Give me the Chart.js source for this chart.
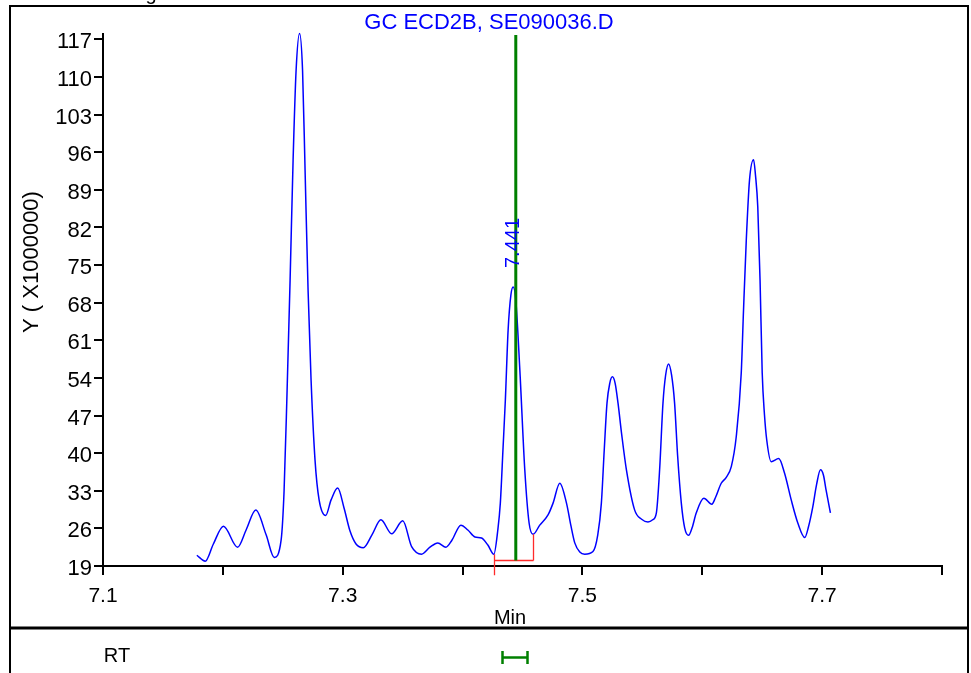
<!DOCTYPE html>
<html>
<head>
<meta charset="utf-8">
<script src="https://cdn.jsdelivr.net/npm/chart.js@4/dist/chart.umd.min.js"></script>
<style>
html,body{margin:0;padding:0;background:#fff;}
#wrap{width:971px;height:673px;position:relative;}
</style>
</head>
<body>
<div id="wrap"><canvas id="c" width="971" height="673"></canvas></div>
<script>
// ---- data ----
const chartTitle = 'GC ECD2B, SE090036.D';
const xAxisTitle = 'Min';
const yAxisTitle = 'Y ( X1000000)';
const rtValues = [7.1783,7.1853,7.1919,7.2005,7.2123,7.2194,7.2275,7.2361,7.2429,7.2486,
  7.2511,7.2536,7.2561,7.2586,7.2611,7.2640,7.2665,7.2686,7.2711,7.2736,
  7.2769,7.2803,7.2858,7.2903,7.2958,7.3011,7.3061,7.3111,7.3172,7.3244,
  7.3319,7.3408,7.3501,7.3575,7.3658,7.3728,7.3793,7.3861,7.3911,7.3986,
  7.4044,7.4103,7.4158,7.4211,7.4261,7.4294,7.4315,7.4338,7.4357,7.4380,
  7.4403,7.4422,7.4444,7.4478,7.4519,7.4555,7.4588,7.4644,7.4713,7.4755,
  7.4811,7.4867,7.4903,7.4936,7.4978,7.5019,7.5088,7.5128,7.5158,7.5182,
  7.5205,7.5228,7.5250,7.5273,7.5297,7.5328,7.5367,7.5436,7.5494,7.5547,
  7.5586,7.5617,7.5644,7.5672,7.5694,7.5719,7.5744,7.5769,7.5794,7.5825,
  7.5853,7.5886,7.5915,7.5950,7.6013,7.6080,7.6111,7.6158,7.6200,7.6242,
  7.6283,7.6325,7.6344,7.6367,7.6394,7.6428,7.6444,7.6463,7.6482,7.6500,
  7.6519,7.6538,7.6575,7.6638,7.6686,7.6742,7.6797,7.6855,7.6886,7.6922,
  7.6953,7.6986,7.7011,7.7033,7.7069];
const signalValues = [21.0,19.9,23.0,26.4,22.5,25.7,29.4,24.8,20.6,23.8,
  33.1,51.7,72.2,94.5,111.2,118.1,111.2,92.6,70.3,53.6,
  38.7,31.3,28.4,31.3,33.5,29.8,25.5,23.1,22.4,24.8,
  27.6,25.0,27.4,22.6,21.2,22.5,23.3,22.5,23.8,26.6,
  25.7,24.4,24.2,22.9,21.2,25.7,30.7,41.1,49.9,62.9,
  69.4,70.9,68.5,55.4,36.9,27.0,24.9,26.6,28.5,30.7,
  34.4,30.7,26.6,23.3,21.6,21.2,21.7,24.8,30.7,40.6,
  49.3,53.0,54.2,53.0,49.3,43.4,36.9,29.4,27.7,27.2,
  27.6,28.9,36.9,49.3,54.5,56.6,54.5,49.3,39.6,30.7,
  26.1,24.7,26.1,28.9,31.6,30.5,31.8,34.4,35.5,37.5,
  43.0,54.9,66.6,79.6,90.8,94.6,91.7,85.8,72.2,54.9,
  47.1,42.4,38.4,39.0,36.3,31.3,27.0,24.3,26.3,30.0,
  34.1,36.9,35.9,33.1,28.9];
const xTickValues = [7.1,7.2,7.3,7.4,7.5,7.6,7.7,7.8];
const xTickLabels = ['7.1','','7.3','','7.5','','7.7',''];
const yTickValues = [19,26,33,40,47,54,61,68,75,82,89,96,103,110,117];
const peakLabel = '7.441';
const peakMarkerRT = 7.4444;
const baselineRT = [7.4261, 7.4588];
const baselineSignal = [21.2, 20.1, 24.9]; // left top, baseline level, right top
const baselineLowSignal = 17.3;
const rtWindow = [7.4328, 7.4536];
const rtRowLabel = 'RT';

const FONT = '"Liberation Sans", Arial, Helvetica, sans-serif';
const points = rtValues.map((x, i) => ({x: x, y: signalValues[i]}));

const decor = {
  id: 'decor',
  beforeDraw(chart) {
    const ctx = chart.ctx;
    ctx.save();
    ctx.fillStyle = '#fff';
    ctx.fillRect(0, 0, chart.width, chart.height);
    ctx.strokeStyle = '#000';
    ctx.lineWidth = 2;
    ctx.beginPath();
    ctx.moveTo(10, 700); ctx.lineTo(10, 6); ctx.lineTo(968, 6); ctx.lineTo(968, 700);
    ctx.stroke();
    ctx.lineWidth = 3;
    ctx.beginPath();
    ctx.moveTo(9, 628); ctx.lineTo(969, 628);
    ctx.stroke();
    // cut-off heading fragment at the very top
    ctx.fillStyle = '#000';
    ctx.font = '20px ' + FONT;
    ctx.textAlign = 'center';
    ctx.textBaseline = 'alphabetic';
    ctx.fillText('g', 151, 0);
    ctx.restore();
  },
  afterDatasetsDraw(chart) {
    const ctx = chart.ctx;
    const xs = chart.scales.x, ys = chart.scales.y;
    ctx.save();
    // red baseline
    ctx.strokeStyle = '#ff2a2a';
    ctx.lineWidth = 1.3;
    const xl = Math.round(xs.getPixelForValue(baselineRT[0])) + 0.5;
    const xr = Math.round(xs.getPixelForValue(baselineRT[1])) + 0.5;
    const yb = Math.round(ys.getPixelForValue(baselineSignal[1])) + 0.5;
    ctx.beginPath();
    ctx.moveTo(xl, ys.getPixelForValue(baselineSignal[0]));
    ctx.lineTo(xl, ys.getPixelForValue(baselineLowSignal));
    ctx.moveTo(xl, yb); ctx.lineTo(xr, yb);
    ctx.moveTo(xr, yb); ctx.lineTo(xr, ys.getPixelForValue(baselineSignal[2]));
    ctx.stroke();
    // green marker line
    const xg = xs.getPixelForValue(peakMarkerRT);
    ctx.strokeStyle = '#008000';
    ctx.lineWidth = 3;
    ctx.beginPath();
    ctx.moveTo(xg, chart.chartArea.top + 1);
    ctx.lineTo(xg, yb);
    ctx.stroke();
    // peak label
    ctx.fillStyle = '#0000ff';
    ctx.font = '20px ' + FONT;
    ctx.translate(xg - 2, 243);
    ctx.rotate(-Math.PI / 2);
    ctx.textAlign = 'center';
    ctx.textBaseline = 'middle';
    ctx.fillText(peakLabel, 0, 0);
    ctx.restore();
  },
  afterDraw(chart) {
    const ctx = chart.ctx;
    const xs = chart.scales.x;
    ctx.save();
    // title
    ctx.fillStyle = '#0000ff';
    ctx.font = '22px ' + FONT;
    ctx.textAlign = 'center';
    ctx.textBaseline = 'alphabetic';
    ctx.fillText(chartTitle, 489, 29);
    // x axis title
    ctx.fillStyle = '#000';
    ctx.font = '20px ' + FONT;
    ctx.fillText(xAxisTitle, 510, 624);
    // RT row
    ctx.fillText(rtRowLabel, 117, 662);
    // y axis title
    ctx.save();
    ctx.translate(38, 262);
    ctx.rotate(-Math.PI / 2);
    ctx.font = '22px ' + FONT;
    ctx.textAlign = 'center';
    ctx.textBaseline = 'alphabetic';
    ctx.fillText(yAxisTitle, 0, 0);
    ctx.restore();
    // RT window bracket
    const a = Math.round(xs.getPixelForValue(rtWindow[0])) + 0.5;
    const b = Math.round(xs.getPixelForValue(rtWindow[1])) + 0.5;
    ctx.strokeStyle = '#008000';
    ctx.lineWidth = 2.5;
    ctx.beginPath();
    ctx.moveTo(a, 651); ctx.lineTo(a, 664);
    ctx.moveTo(a, 657.5); ctx.lineTo(b, 657.5);
    ctx.moveTo(b, 651); ctx.lineTo(b, 664);
    ctx.stroke();
    ctx.restore();
  }
};

new Chart(document.getElementById('c'), {
  type: 'line',
  data: {
    datasets: [{
      data: points,
      borderColor: '#0000ff',
      borderWidth: 1.5,
      pointRadius: 0,
      fill: false,
      cubicInterpolationMode: 'monotone',
      clip: 6
    }]
  },
  options: {
    responsive: false,
    animation: false,
    devicePixelRatio: 1,
    layout: {padding: {left: 0, right: 29, top: 34, bottom: 0}},
    plugins: {legend: {display: false}, tooltip: {enabled: false}, title: {display: false}},
    scales: {
      x: {
        type: 'linear',
        min: 7.1, max: 7.8,
        afterBuildTicks(s) { s.ticks = xTickValues.map(v => ({value: v})); },
        afterFit(s) { s.height = 107; },
        border: {display: true, color: '#000', width: 2},
        grid: {display: true, drawOnChartArea: false, drawTicks: true, tickLength: 9, color: '#000', lineWidth: 2},
        ticks: {
          color: '#000',
          font: {family: FONT, size: 21},
          padding: 9,
          maxRotation: 0,
          autoSkip: false,
          callback(v) {
            const i = xTickValues.findIndex(t => Math.abs(t - v) < 1e-6);
            return i >= 0 ? xTickLabels[i] : '';
          }
        }
      },
      y: {
        type: 'linear',
        min: 19, max: 118,
        afterBuildTicks(s) { s.ticks = yTickValues.map(v => ({value: v})); },
        afterFit(s) { s.width = 103; },
        border: {display: true, color: '#000', width: 2},
        grid: {display: true, drawOnChartArea: false, drawTicks: true, tickLength: 9, color: '#000', lineWidth: 2},
        ticks: {
          color: '#000',
          font: {family: FONT, size: 22},
          padding: 2,
          labelOffset: 3,
          autoSkip: false,
          callback(v) { return String(v); }
        }
      }
    }
  },
  plugins: [decor]
});
</script>
</body>
</html>
